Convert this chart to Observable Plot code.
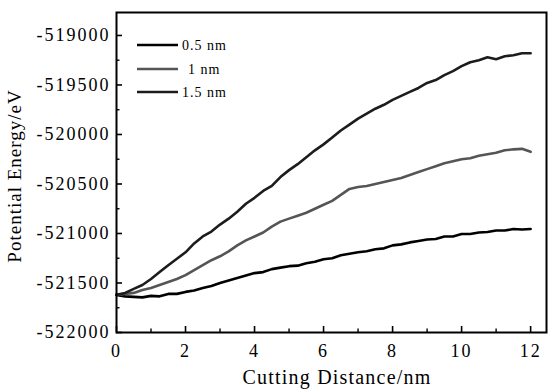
<!DOCTYPE html>
<html>
<head>
<meta charset="utf-8">
<script src="https://cdn.jsdelivr.net/npm/d3@7"></script>
<script src="https://cdn.jsdelivr.net/npm/@observablehq/plot@0.6"></script>
<style>
  html, body { margin: 0; padding: 0; background: #fff; }
  #chart { width: 555px; height: 390px; }
  #chart svg, #chart svg text { font-family: 'Liberation Serif', 'Times New Roman', serif !important; }
</style>
</head>
<body>
<div id="chart"></div>
<script>
// Cutting distance (nm)
const distance = [0,0.25,0.5,0.75,1,1.25,1.5,1.75,2,2.25,2.5,2.75,3,3.25,3.5,3.75,4,4.25,4.5,4.75,5,5.25,5.5,5.75,6,6.25,6.5,6.75,7,7.25,7.5,7.75,8,8.25,8.5,8.75,9,9.25,9.5,9.75,10,10.25,10.5,10.75,11,11.25,11.5,11.75,12];
// Potential energy (eV) per cutting depth
const pe05 = [-521620,-521635,-521640,-521645,-521630,-521635,-521610,-521610,-521590,-521575,-521550,-521530,-521500,-521475,-521450,-521425,-521400,-521390,-521360,-521345,-521330,-521325,-521300,-521285,-521260,-521250,-521220,-521205,-521190,-521180,-521160,-521150,-521120,-521110,-521090,-521075,-521060,-521055,-521030,-521030,-521005,-521005,-520990,-520985,-520970,-520970,-520955,-520960,-520955];
const pe10 = [-521620,-521610,-521600,-521570,-521550,-521520,-521490,-521460,-521420,-521370,-521320,-521270,-521230,-521180,-521120,-521070,-521030,-520990,-520930,-520880,-520850,-520820,-520790,-520750,-520710,-520670,-520610,-520550,-520530,-520520,-520500,-520480,-520460,-520440,-520410,-520380,-520350,-520320,-520290,-520270,-520250,-520240,-520215,-520200,-520185,-520160,-520150,-520145,-520175];
const pe15 = [-521620,-521600,-521560,-521520,-521460,-521390,-521320,-521255,-521190,-521100,-521030,-520980,-520910,-520850,-520780,-520700,-520640,-520570,-520520,-520430,-520360,-520300,-520230,-520160,-520100,-520030,-519960,-519900,-519840,-519790,-519740,-519700,-519650,-519610,-519570,-519530,-519480,-519450,-519400,-519360,-519310,-519270,-519250,-519220,-519240,-519210,-519200,-519180,-519180];

const seriesNames = ["0.5 nm", "1 nm", "1.5 nm"];
const seriesColors = ["#000000", "#555555", "#1c1c1c"];
const xMajor = [0, 2, 4, 6, 8, 10, 12];
const xMinor = [1, 3, 5, 7, 9, 11];
const yMajor = [-522000, -521500, -521000, -520500, -520000, -519500, -519000];
const yMinor = [-521750, -521250, -520750, -520250, -519750, -519250];
const xTitle = "Cutting Distance/nm";
const yTitle = "Potential Energy/eV";

const allSeries = [pe05, pe10, pe15];
const rows = [];
allSeries.forEach((vals, i) => {
  vals.forEach((v, j) => rows.push({series: seriesNames[i], x: distance[j], y: v}));
});

const fontFamily = "'Liberation Serif', 'Times New Roman', serif";

const chart = Plot.plot({
  width: 555,
  height: 390,
  marginLeft: 116,
  marginRight: 9,
  marginTop: 12,
  marginBottom: 58,
  style: {"font-family": fontFamily, background: "#fff"},
  x: {domain: [0, 12.46], label: null},
  y: {domain: [-522000, -518768], label: null},
  color: {domain: seriesNames, range: seriesColors},
  marks: [
    Plot.line(rows, {x: "x", y: "y", z: "series", stroke: "series", strokeWidth: 2.6, strokeLinejoin: "round"}),
    Plot.axisX(xMajor, {tickSize: -6, text: null, strokeWidth: 1.6}),
    Plot.axisX(xMinor, {tickSize: -3.5, text: null, strokeWidth: 1.4}),
    Plot.axisY(yMajor, {tickSize: -6, text: null, strokeWidth: 1.6}),
    Plot.axisY(yMinor, {tickSize: -3.5, text: null, strokeWidth: 1.4}),
    Plot.axisX(xMajor, {tickSize: 0, tickPadding: 12, fontSize: 18, fill: "#000", tickFormat: d => String(d), label: null}),
    Plot.axisY(yMajor, {tickSize: 0, tickPadding: 6, fontSize: 18, fill: "#000", tickFormat: d => String(d), label: null}),
    Plot.frame({stroke: "#000", strokeWidth: 2})
  ]
});

document.getElementById("chart").appendChild(chart);

const svg = d3.select(chart);
svg.selectAll("g[aria-label='x-axis tick label'] text, g[aria-label='y-axis tick label'] text")
  .style("letter-spacing", "2px");

// axis titles
svg.append("text")
  .attr("x", 337).attr("y", 384)
  .attr("text-anchor", "middle")
  .attr("font-size", 20)
  .style("letter-spacing", "1.2px")
  .attr("fill", "#000")
  .text(xTitle);
svg.append("text")
  .attr("transform", "translate(21,176) rotate(-90)")
  .attr("text-anchor", "middle")
  .attr("font-size", 19)
  .style("letter-spacing", "1px")
  .attr("fill", "#000")
  .text(yTitle);

// legend
const legendY = [45, 69, 92];
const legendLabelX = [182, 188, 182];
const lg = svg.append("g").attr("font-size", 14).attr("text-anchor", "start");
seriesNames.forEach((name, i) => {
  lg.append("line")
    .attr("x1", 137).attr("x2", 178)
    .attr("y1", legendY[i]).attr("y2", legendY[i])
    .attr("stroke", seriesColors[i]).attr("stroke-width", 2.4);
  lg.append("text")
    .attr("x", legendLabelX[i]).attr("y", legendY[i] + 5)
    .attr("text-anchor", "start")
    .style("letter-spacing", "1px")
    .attr("fill", "#000")
    .text(name);
});
</script>
</body>
</html>
